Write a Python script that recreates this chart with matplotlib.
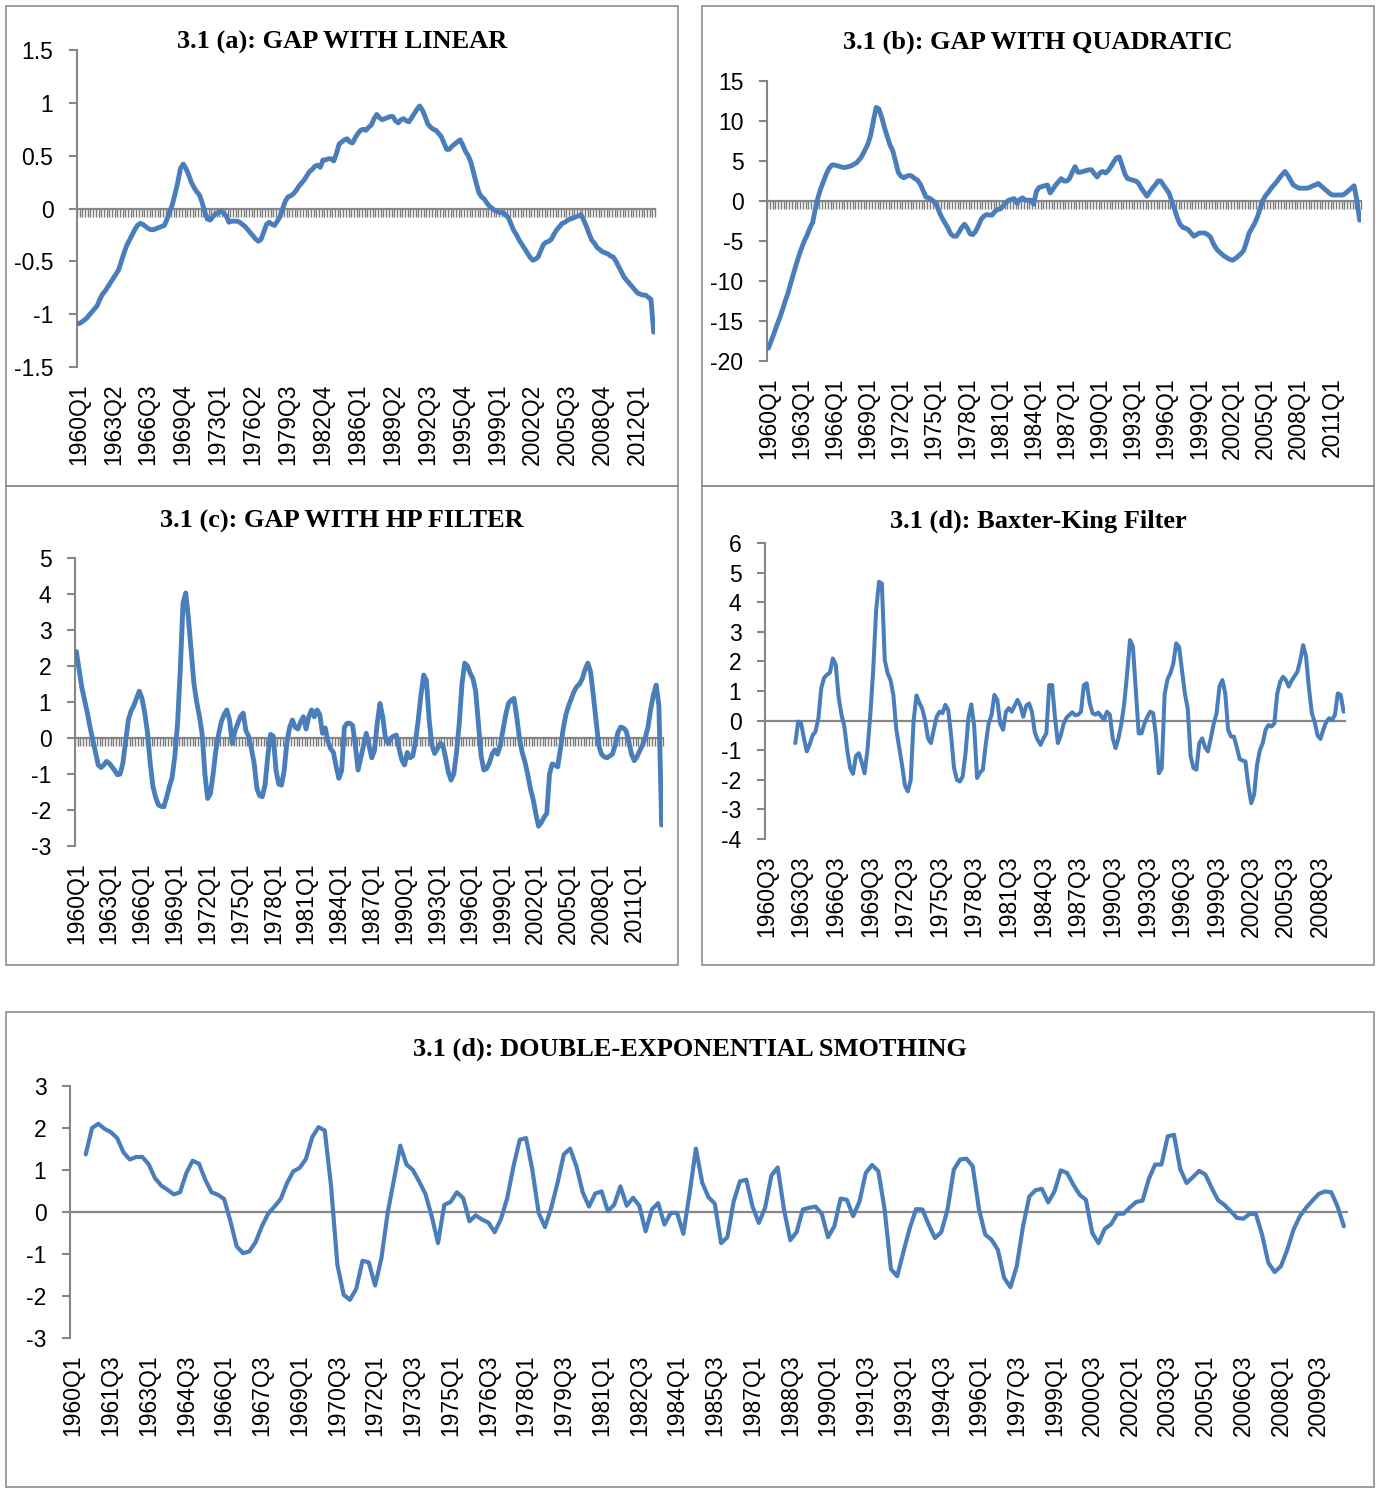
import numpy as np
import matplotlib
matplotlib.use("Agg")
import matplotlib.pyplot as plt
from matplotlib.patches import Rectangle

plt.rcParams['axes.unicode_minus'] = False

# ---------------- data ----------------
def quarters(start_year, start_q, n):
    out = []
    y, q = start_year, start_q
    for _ in range(n):
        out.append(f"{y}Q{q}")
        q += 1
        if q > 4:
            q = 1
            y += 1
    return out

cats_abc = quarters(1960, 1, 215)
cats_bk = quarters(1960, 3, 201)
cats_des = quarters(1960, 1, 203)

gap_linear = [
    -1.09, -1.08, -1.06, -1.04, -1.01, -0.98, -0.95, -0.92, -0.86, -0.81,
    -0.78, -0.74, -0.70, -0.66, -0.62, -0.58, -0.50, -0.42, -0.35, -0.30,
    -0.25, -0.20, -0.16, -0.14, -0.15, -0.17, -0.19, -0.20, -0.20, -0.19,
    -0.18, -0.17, -0.16, -0.10, -0.03, 0.04, 0.14, 0.25, 0.38, 0.42,
    0.38, 0.32, 0.25, 0.20, 0.16, 0.13, 0.06, -0.03, -0.10, -0.11,
    -0.08, -0.05, -0.04, -0.03, -0.04, -0.07, -0.13, -0.12, -0.12, -0.12,
    -0.13, -0.15, -0.17, -0.20, -0.23, -0.26, -0.29, -0.31, -0.29, -0.22,
    -0.15, -0.13, -0.15, -0.16, -0.12, -0.08, 0.00, 0.07, 0.11, 0.12,
    0.14, 0.17, 0.21, 0.24, 0.27, 0.31, 0.35, 0.37, 0.40, 0.41,
    0.39, 0.46, 0.46, 0.47, 0.47, 0.45, 0.52, 0.61, 0.63, 0.65,
    0.66, 0.63, 0.62, 0.67, 0.71, 0.74, 0.75, 0.74, 0.77, 0.79,
    0.85, 0.89, 0.86, 0.84, 0.85, 0.86, 0.87, 0.87, 0.83, 0.81,
    0.84, 0.85, 0.83, 0.82, 0.86, 0.90, 0.94, 0.97, 0.93, 0.87,
    0.80, 0.77, 0.75, 0.74, 0.71, 0.68, 0.62, 0.56, 0.56, 0.59,
    0.61, 0.63, 0.65, 0.60, 0.54, 0.50, 0.44, 0.34, 0.24, 0.15,
    0.11, 0.09, 0.05, 0.02, 0.00, -0.02, -0.03, -0.04, -0.04, -0.06,
    -0.09, -0.15, -0.21, -0.25, -0.30, -0.34, -0.38, -0.42, -0.46, -0.49,
    -0.48, -0.46, -0.40, -0.34, -0.32, -0.31, -0.29, -0.24, -0.20, -0.17,
    -0.14, -0.13, -0.11, -0.10, -0.09, -0.08, -0.07, -0.06, -0.11, -0.17,
    -0.24, -0.30, -0.33, -0.37, -0.39, -0.41, -0.42, -0.43, -0.45, -0.46,
    -0.50, -0.55, -0.60, -0.65, -0.68, -0.71, -0.74, -0.77, -0.80, -0.81,
    -0.82, -0.82, -0.84, -0.86, -1.17,
]

gap_quadratic = [
    -18.4, -17.5, -16.6, -15.6, -14.7, -13.7, -12.6, -11.6, -10.4, -9.2,
    -8.0, -6.9, -5.9, -5.0, -4.3, -3.4, -2.7, -1.0, 0.5, 1.6,
    2.5, 3.4, 4.1, 4.5, 4.5, 4.4, 4.3, 4.2, 4.2, 4.3,
    4.4, 4.6, 4.8, 5.2, 5.7, 6.4, 7.1, 8.2, 10.0, 11.7,
    11.5, 10.5, 9.2, 8.1, 7.0, 6.3, 5.0, 3.6, 3.1, 2.9,
    3.1, 3.2, 3.1, 2.8, 2.6, 2.1, 1.3, 0.5, 0.4, 0.2,
    -0.1, -0.6, -1.5, -2.2, -2.8, -3.4, -4.1, -4.4, -4.4, -3.9,
    -3.3, -2.9, -3.4, -4.1, -4.2, -3.8, -3.1, -2.3, -1.9, -1.7,
    -1.75, -1.75, -1.3, -1.05, -1.0, -0.6, -0.2, 0.1, 0.2, 0.3,
    -0.3, 0.2, 0.4, 0.1, 0.1, 0.1, -0.4, 1.2, 1.7, 1.8,
    1.9, 2.0, 1.0, 1.5, 2.0, 2.4, 2.8, 2.5, 2.5, 2.8,
    3.6, 4.3, 3.6, 3.6, 3.7, 3.8, 3.9, 3.9, 3.4, 3.0,
    3.5, 3.7, 3.5, 3.8, 4.3, 4.9, 5.4, 5.5, 4.5, 3.4,
    2.8, 2.7, 2.6, 2.5, 2.2, 1.6, 1.1, 0.6, 1.1, 1.6,
    2.0, 2.5, 2.5, 2.0, 1.5, 1.0, 0.0, -1.0, -2.1, -2.9,
    -3.3, -3.4, -3.6, -4.0, -4.4, -4.2, -4.0, -4.0, -4.0, -4.2,
    -4.5, -5.3, -5.9, -6.3, -6.6, -6.9, -7.1, -7.3, -7.4, -7.2,
    -6.9, -6.6, -6.2, -5.2, -4.0, -3.4, -2.8, -2.0, -0.9, 0.1,
    0.7, 1.1, 1.6, 2.0, 2.4, 2.9, 3.3, 3.7, 3.2, 2.6,
    2.0, 1.8, 1.6, 1.6, 1.6, 1.6, 1.7, 1.9, 2.0, 2.2,
    1.9, 1.6, 1.3, 1.0, 0.75, 0.75, 0.75, 0.75, 0.75, 1.0,
    1.3, 1.6, 1.9, 0.1, -2.4,
]

gap_hp = [
    2.4, 1.9, 1.4, 1.05, 0.7, 0.3, -0.05, -0.4, -0.75, -0.82,
    -0.75, -0.65, -0.7, -0.8, -0.9, -1.02, -1.0, -0.7, -0.1, 0.5,
    0.75, 0.9, 1.1, 1.3, 1.1, 0.7, 0.15, -0.7, -1.35, -1.65,
    -1.86, -1.9, -1.91, -1.65, -1.35, -1.1, -0.5, 0.4, 1.9, 3.75,
    4.03, 3.3, 2.4, 1.5, 1.0, 0.6, 0.1, -1.0, -1.68, -1.55,
    -1.0, -0.35, 0.1, 0.45, 0.65, 0.78, 0.5, -0.15, 0.2, 0.4,
    0.6, 0.69, 0.2, 0.05, -0.3, -0.7, -1.4, -1.6, -1.63, -1.3,
    -0.5, 0.1, 0.05, -0.9, -1.28, -1.31, -0.9, -0.1, 0.3, 0.5,
    0.3, 0.25, 0.45, 0.59, 0.25, 0.6, 0.78, 0.59, 0.78, 0.65,
    0.13, 0.28, -0.1, -0.3, -0.4, -0.8, -1.12, -0.9, 0.3, 0.41,
    0.41, 0.35, -0.2, -0.89, -0.55, -0.2, 0.13, -0.2, -0.55, -0.35,
    0.4, 0.96, 0.6, 0.0, -0.15, 0.0, 0.05, 0.08, -0.3, -0.61,
    -0.75, -0.4, -0.55, -0.5, -0.1, 0.5, 1.2, 1.75, 1.6, 0.5,
    -0.2, -0.43, -0.3, -0.15, -0.2, -0.55, -0.95, -1.17, -1.0, -0.4,
    0.4, 1.5, 2.08, 2.0, 1.8, 1.65, 1.3, 0.4, -0.5, -0.89,
    -0.85, -0.7, -0.45, -0.33, -0.45, -0.2, 0.22, 0.65, 0.96, 1.05,
    1.1, 0.6, 0.0, -0.4, -0.66, -1.0, -1.4, -1.7, -2.1, -2.45,
    -2.35, -2.2, -2.1, -1.0, -0.72, -0.75, -0.8, -0.3, 0.25, 0.65,
    0.9, 1.1, 1.3, 1.43, 1.5, 1.65, 1.9, 2.08, 1.85, 1.2,
    0.5, -0.2, -0.45, -0.52, -0.55, -0.5, -0.45, -0.2, 0.15, 0.3,
    0.28, 0.2, -0.1, -0.45, -0.63, -0.52, -0.35, -0.2, 0.0, 0.3,
    0.8, 1.2, 1.47, 0.9, -2.42,
]

# Baxter-King: first 10 categories (1960Q3-1962Q4) are empty
bk_missing_start = 10
baxter_king = [
    -0.76, -0.03, -0.09, -0.6, -1.04, -0.8, -0.5, -0.37, 0.08, 1.1,
    1.45, 1.55, 1.62, 2.1, 1.9, 0.8, 0.2, -0.2, -1.0, -1.6,
    -1.8, -1.2, -1.1, -1.4, -1.78, -1.0, 0.2, 1.71, 3.7, 4.69,
    4.63, 2.04, 1.6, 1.37, 0.85, -0.3, -0.9, -1.5, -2.2, -2.39,
    -2.0, 0.0, 0.85, 0.6, 0.4, 0.0, -0.6, -0.76, -0.3, 0.13,
    0.3, 0.25, 0.53, 0.36, -0.5, -1.6, -2.0, -2.06, -1.89, -1.1,
    0.1, 0.55, -0.2, -1.94, -1.75, -1.66, -0.8, -0.1, 0.19, 0.87,
    0.7, -0.1, -0.31, 0.3, 0.42, 0.3, 0.5, 0.7, 0.5, 0.13,
    0.5, 0.58, 0.3, -0.4, -0.65, -0.82, -0.6, -0.43, 1.2, 1.2,
    0.1, -0.76, -0.5, -0.1, 0.1, 0.19, 0.28, 0.18, 0.2, 0.3,
    1.2, 1.26, 0.6, 0.25, 0.2, 0.27, 0.15, 0.02, 0.3, 0.2,
    -0.6, -0.93, -0.6, -0.1, 0.58, 1.6, 2.72, 2.5, 1.03, -0.43,
    -0.43, -0.1, 0.13, 0.3, 0.25, -0.54, -1.78, -1.61, 0.9, 1.4,
    1.6, 1.93, 2.61, 2.49, 1.71, 0.92, 0.4, -1.2, -1.6, -1.66,
    -0.76, -0.6, -0.9, -1.04, -0.6, -0.1, 0.25, 1.15, 1.37, 0.92,
    -0.31, -0.54, -0.54, -0.9, -1.3, -1.35, -1.38, -2.2, -2.79, -2.5,
    -1.5, -1.0, -0.76, -0.3, -0.15, -0.2, -0.1, 0.9, 1.3, 1.48,
    1.37, 1.15, 1.35, 1.5, 1.65, 2.04, 2.55, 2.16, 1.1, 0.25,
    -0.05, -0.5, -0.62, -0.3, -0.05, 0.08, 0.02, 0.19, 0.92, 0.87,
    0.3,
]

# Double exponential smoothing: first 2 categories empty
des_missing_start = 2
double_exp = [
    1.37, 2.0, 2.1, 1.98, 1.9, 1.76, 1.42, 1.25, 1.31, 1.31,
    1.14, 0.81, 0.63, 0.53, 0.42, 0.47, 0.93, 1.22, 1.15, 0.77,
    0.47, 0.41, 0.31, -0.22, -0.82, -0.98, -0.94, -0.72, -0.34, -0.04,
    0.13, 0.31, 0.69, 0.97, 1.05, 1.26, 1.78, 2.02, 1.94, 0.61,
    -1.25, -1.97, -2.09, -1.83, -1.16, -1.2, -1.75, -1.1, -0.02, 0.77,
    1.58, 1.13, 1.0, 0.73, 0.43, -0.1, -0.74, 0.17, 0.24, 0.47,
    0.33, -0.22, -0.08, -0.18, -0.25, -0.48, -0.17, 0.33, 1.09, 1.72,
    1.76, 1.0, -0.02, -0.36, 0.1, 0.69, 1.37, 1.51, 1.09, 0.47,
    0.13, 0.44, 0.49, 0.02, 0.17, 0.61, 0.15, 0.34, 0.15, -0.46,
    0.06, 0.21, -0.3, -0.02, -0.02, -0.52, 0.45, 1.51, 0.7, 0.35,
    0.2, -0.74, -0.6, 0.25, 0.73, 0.77, 0.13, -0.26, 0.1, 0.87,
    1.06, 0.06, -0.67, -0.48, 0.06, 0.1, 0.13, -0.04, -0.6, -0.34,
    0.32, 0.29, -0.1, 0.25, 0.93, 1.12, 0.97, 0.06, -1.36, -1.53,
    -0.94, -0.38, 0.07, 0.06, -0.3, -0.62, -0.48, 0.06, 1.01, 1.25,
    1.27, 1.09, 0.06, -0.54, -0.66, -0.9, -1.57, -1.79, -1.29, -0.34,
    0.37, 0.52, 0.55, 0.23, 0.49, 0.99, 0.93, 0.65, 0.41, 0.29,
    -0.5, -0.74, -0.4, -0.29, -0.04, -0.04, 0.11, 0.24, 0.27, 0.79,
    1.13, 1.13, 1.8, 1.84, 1.02, 0.69, 0.83, 0.98, 0.89, 0.57,
    0.28, 0.17, 0.02, -0.14, -0.16, -0.05, -0.04, -0.54, -1.21, -1.43,
    -1.29, -0.9, -0.42, -0.1, 0.1, 0.27, 0.43, 0.49, 0.47, 0.13,
    -0.34,
]

titles = [
    "3.1 (a): GAP WITH LINEAR",
    "3.1 (b): GAP WITH QUADRATIC",
    "3.1 (c): GAP WITH HP FILTER",
    "3.1 (d): Baxter-King Filter",
    "3.1 (d): DOUBLE-EXPONENTIAL SMOTHING",
]

# ---------------- styling ----------------
W, H = 1379, 1488
BLUE = "#4A7EBB"
GRAY = "#868686"
TICKFONT = "Liberation Sans"
TITLEFONT = "Liberation Serif"
TICKSIZE = 16.5

fig = plt.figure(figsize=(W / 100, H / 100), dpi=100)
fig.patch.set_facecolor("white")


def frame(l, t, r, b):
    fig.add_artist(Rectangle((l / W, 1 - b / H), (r - l) / W, (b - t) / H,
                             transform=fig.transFigure, fill=False,
                             edgecolor="#8e8e8e", linewidth=1.2))


def panel(box, cats, values, ylim, ystep, label_step, title, title_xy,
          lw=3.5, hatch=True):
    l, r, t, b = box
    ax = fig.add_axes([l / W, 1 - b / H, (r - l) / W, (b - t) / H])
    n = len(cats)
    x = np.arange(n)
    ax.plot(x, np.array(values, dtype=float), color=BLUE, lw=lw,
            solid_joinstyle="round", solid_capstyle="round", zorder=3)
    ax.set_xlim(-0.5, n - 0.5)
    ax.set_ylim(*ylim)
    yt = np.arange(ylim[0], ylim[1] + ystep / 2, ystep)
    ax.set_yticks(yt)
    ax.set_yticklabels(["%g" % v for v in yt], fontfamily=TICKFONT,
                       fontsize=TICKSIZE)
    ax.tick_params(axis="y", direction="out", length=6, width=1.5,
                   color=GRAY, pad=11)
    for s in ("top", "right"):
        ax.spines[s].set_visible(False)
    ax.spines["left"].set_color(GRAY)
    ax.spines["left"].set_linewidth(1.5)
    ax.spines["bottom"].set_position(("data", 0))
    ax.spines["bottom"].set_color(GRAY)
    ax.spines["bottom"].set_linewidth(1.6)
    if hatch:
        ax.set_xticks(np.arange(n + 1) - 0.5)
        ax.tick_params(axis="x", direction="out", length=6, width=1.0,
                       color="#7a7a7a", labelbottom=False)
    else:
        ax.set_xticks([])
    ax.set_facecolor("none")
    lab = ax.secondary_xaxis("bottom")
    pos = np.arange(0, n, label_step)
    lab.set_xticks(pos)
    lab.set_xticklabels([cats[i] for i in pos], rotation=90,
                        fontfamily=TICKFONT, fontsize=TICKSIZE, va="top")
    lab.tick_params(axis="x", length=0, pad=12)
    lab.spines["bottom"].set_visible(False)
    fig.text(title_xy[0] / W, 1 - title_xy[1] / H, title, ha="center",
             va="center", fontfamily=TITLEFONT, fontweight="bold",
             fontsize=19)
    return ax


frame(6, 6, 678, 486)
frame(702, 6, 1374, 486)
frame(6, 486, 678, 965)
frame(702, 486, 1374, 965)
frame(6, 1012, 1374, 1487)

panel((77, 655, 50, 367), cats_abc, gap_linear, (-1.5, 1.5), 0.5, 13,
      titles[0], (342, 42))
panel((767, 1361, 81, 361), cats_abc, gap_quadratic, (-20, 15), 5, 12,
      titles[1], (1038, 42))
panel((75, 663, 558, 846), cats_abc, gap_hp, (-3, 5), 1, 12,
      titles[2], (342, 521))
bk_full = [np.nan] * bk_missing_start + baxter_king
panel((765, 1345, 543, 839), cats_bk, bk_full, (-4, 6), 1, 12,
      titles[3], (1038, 521), lw=2.9, hatch=False)
des_full = [np.nan] * des_missing_start + double_exp
panel((70, 1347, 1086, 1338), cats_des, des_full, (-3, 3), 1, 6,
      titles[4], (690, 1049), lw=3.0, hatch=False)

fig.savefig("out.png", dpi=100, facecolor="white")
